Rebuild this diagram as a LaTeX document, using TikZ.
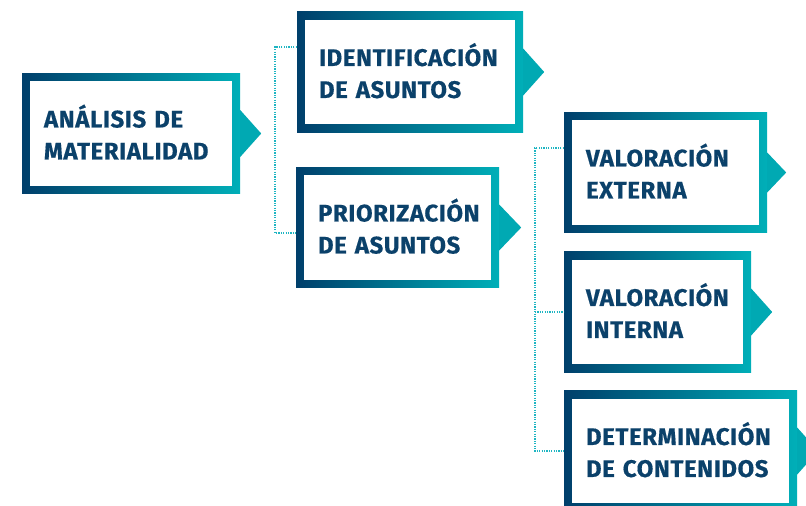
\documentclass[tikz,border=0pt]{standalone}
\usepackage{fontspec}
\setmainfont[BoldFeatures={FakeBold=0.5,LetterSpace=2.5}]{Fira Sans}
\usetikzlibrary{calc}
\definecolor{navy}{HTML}{003F6B}
\definecolor{tealend}{HTML}{00AFB8}
\definecolor{txt}{HTML}{0B416A}
\definecolor{tri}{HTML}{00A9B3}
\definecolor{dotc}{HTML}{1FB5C2}
\tikzset{
  stepbox/.style={shape=rectangle, left color=navy, right color=tealend, draw=none,
    minimum height=120.5pt, inner xsep=22pt, inner ysep=0pt, align=left,
    execute at end node={\rule[-3pt]{0pt}{3pt}},
    font=\fontsize{24}{32}\selectfont\bfseries, text=txt,
    path picture={\fill[white] ([shift={(8pt,-8pt)}]path picture bounding box.north west)
      rectangle ([shift={(-8pt,8pt)}]path picture bounding box.south east);}},
  tip/.style={fill=tri, draw=none},
  dotline/.style={draw=dotc, line width=1.2pt, dash pattern=on 1.2pt off 1.2pt},
}
\newcommand\boxtip[3]{\fill[tip] ($(#1.east)+(0,-#3)$) -- ($(#1.east)+(#2,0)$) -- ($(#1.east)+(0,#3)$) -- cycle;}
\begin{document}
\begin{tikzpicture}[x=1pt,y=-1pt]
\useasboundingbox (0,0) rectangle (806,506);
\clip (0,0) rectangle (806,506);
\node[stepbox, text width=174pt] (b1) at (131,133.5) {ANÁLISIS DE\\MATERIALIDAD};
\node[stepbox, text width=182pt] (b2) at (410,72) {IDENTIFICACIÓN\\DE ASUNTOS};
\node[stepbox, text width=159pt] (b3) at (397.5,227.5) {PRIORIZACIÓN\\DE ASUNTOS};
\node[stepbox, text width=159pt] (b4) at (665.5,172.5) {VALORACIÓN\\EXTERNA};
\node[stepbox, text width=143pt] (b5) at (657.5,312) {VALORACIÓN\\INTERNA};
\node[stepbox, text width=189pt] (b6) at (680.5,451) {DETERMINACIÓN\\DE CONTENIDOS};
\boxtip{b1}{21}{23.5}
\boxtip{b2}{21}{23.5}
\boxtip{b3}{22}{23}
\boxtip{b4}{19}{20}
\boxtip{b5}{21}{23.5}
\boxtip{b6}{21}{23.5}
\coordinate (k1) at (275,47);
\coordinate (k2) at (275,233);
\draw[dotline] (b2.west |- k1) -- (k1) -- (k2) -- (b3.west |- k2);
\coordinate (m1) at (535,148);
\coordinate (m3) at (535,451);
\draw[dotline] (b4.west |- m1) -- (m1) -- (m3) -- (b6.west |- m3);
\draw[dotline] (m1 |- b5.west) -- (b5.west);
\end{tikzpicture}
\end{document}
